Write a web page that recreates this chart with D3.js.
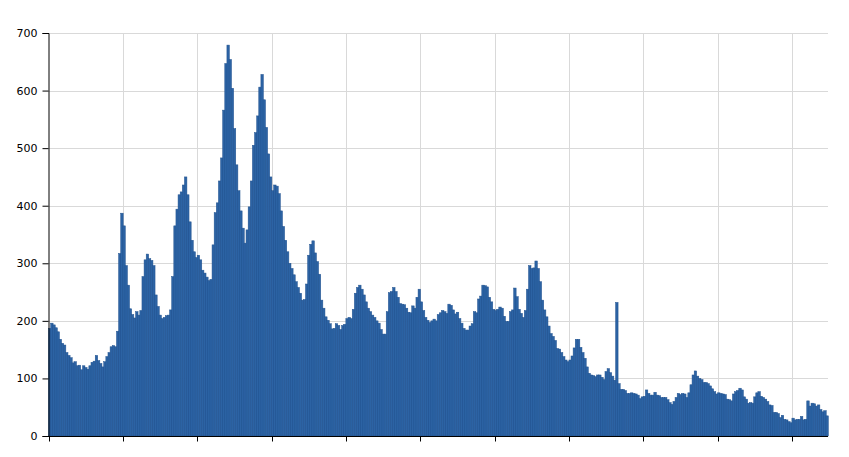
<!DOCTYPE html>
<html><head><meta charset="utf-8">
<script src="https://cdn.jsdelivr.net/npm/d3@7"></script>
<style>
html,body{margin:0;padding:0;background:#fff;}
svg{display:block;}
text{font-family:"DejaVu Sans",Verdana,sans-serif;font-size:11px;fill:#000;}
</style></head><body>
<svg id="chart" width="849" height="457"></svg>
<script>
const values = [
187,196,193,188,181,168,161,158,145,140,136,127,129,122,123,115,122,119,116,122,
128,130,140,131,126,120,129,138,145,155,157,155,182,317,387,365,296,262,221,211,
205,216,210,218,277,306,316,308,305,296,245,225,210,204,206,209,210,219,277,365,
394,419,424,436,450,419,372,340,320,310,314,306,288,283,276,270,272,332,388,405,
443,483,566,647,679,654,604,534,471,426,391,361,335,358,398,443,505,527,556,606,
628,584,536,490,450,426,436,434,421,391,364,340,320,300,291,280,268,258,248,236,
237,264,314,333,339,318,303,281,236,222,207,201,195,186,187,195,192,185,192,194,
204,206,204,220,248,258,262,255,245,233,222,216,210,206,200,196,185,177,177,216,
249,251,258,251,241,230,229,228,222,215,214,226,222,241,255,233,218,206,201,197,
200,203,200,211,214,218,216,213,229,227,219,212,215,204,196,187,184,184,191,195,
216,214,238,243,262,261,259,241,233,220,218,220,224,222,208,199,199,216,219,257,
242,220,213,206,218,255,296,291,292,304,291,268,236,219,207,191,178,173,166,152,
151,145,138,132,129,132,139,153,168,168,154,145,135,120,109,106,105,103,106,106,
102,98,112,117,110,104,97,232,91,81,81,79,74,74,75,74,73,71,65,68,
69,80,74,71,71,76,71,70,67,67,67,63,58,55,60,67,74,72,74,73,
67,75,89,106,113,104,100,98,93,93,91,87,82,77,73,75,74,73,72,64,
63,61,73,77,79,83,80,68,64,57,58,57,68,75,77,69,67,64,60,54,
53,41,41,39,32,36,29,28,25,23,31,28,29,29,34,28,29,61,52,57,
56,52,54,46,42,44,35
];
const categories = values.map((d, i) => i);
const yTickValues = [0, 100, 200, 300, 400, 500, 600, 700];
const xTickCategories = [0, 35, 70, 105, 140, 175, 210, 245, 280, 315, 350];

const svg = d3.select("#chart");
const plotLeft = 48.5, plotRight = 828, plotTop = 33, plotBottom = 436;

const x = d3.scaleBand().domain(categories).range([plotLeft, plotRight]).padding(0);
const y = d3.scaleLinear().domain([0, 700]).range([plotBottom, plotTop]);

// grid
const grid = svg.append("g");
grid.selectAll("line.h").data(yTickValues.filter(v => v > 0)).join("line")
  .attr("x1", plotLeft).attr("x2", plotRight)
  .attr("y1", d => Math.round(y(d)) + 0.5).attr("y2", d => Math.round(y(d)) + 0.5)
  .attr("stroke", "#d9d9d9").attr("stroke-width", 1);
grid.selectAll("line.v").data(xTickCategories.filter(v => v > 0)).join("line")
  .attr("x1", d => Math.round(x(d)) + 0.5).attr("x2", d => Math.round(x(d)) + 0.5)
  .attr("y1", plotTop).attr("y2", plotBottom)
  .attr("stroke", "#d9d9d9").attr("stroke-width", 1);

// bars
svg.append("g").selectAll("rect").data(values).join("rect")
  .attr("x", (d, i) => x(categories[i]))
  .attr("width", x.bandwidth() + 0.35)
  .attr("y", d => y(d))
  .attr("height", d => plotBottom - y(d))
  .attr("fill", "#2c63a4")
  .attr("stroke", "#22538f")
  .attr("stroke-width", 0.5);

// y axis
const yAxis = d3.axisLeft(y).tickValues(yTickValues).tickSize(6).tickPadding(5).tickFormat(d3.format("d"));
const gy = svg.append("g").attr("transform", `translate(${plotLeft},0)`).call(yAxis);
gy.select(".domain").attr("stroke", "#000");
gy.selectAll(".tick line").attr("stroke", "#000");
gy.selectAll("text").style("font-family", "'DejaVu Sans',Verdana,sans-serif").style("font-size", "11px").attr("fill", "#000");

// x axis
const xAxis = d3.axisBottom(x).tickValues(xTickCategories).tickSize(5).tickFormat("");
const gx = svg.append("g").attr("transform", `translate(0,${plotBottom + 0.5})`).call(xAxis);
gx.select(".domain").attr("stroke", "#000").attr("d", `M${plotLeft},0H${plotRight}`);
gx.selectAll(".tick").attr("transform", d => `translate(${Math.round(x(d)) + 0.5},0)`);
gx.selectAll(".tick line").attr("stroke", "#000");
</script>
</body></html>
